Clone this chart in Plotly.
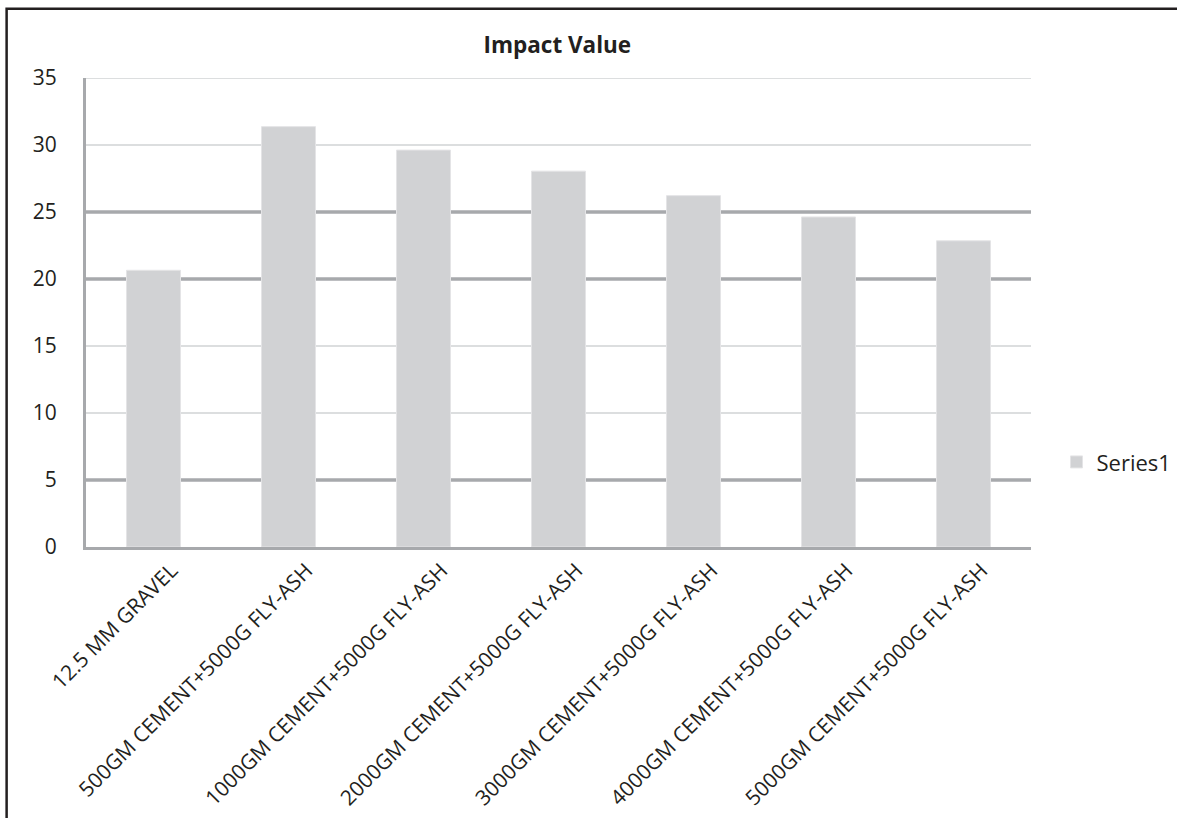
import plotly.graph_objects as go

# Impact value per mix
categories = [
    "12.5 MM GRAVEL",
    "500GM CEMENT+5000G FLY-ASH",
    "1000GM CEMENT+5000G FLY-ASH",
    "2000GM CEMENT+5000G FLY-ASH",
    "3000GM CEMENT+5000G FLY-ASH",
    "4000GM CEMENT+5000G FLY-ASH",
    "5000GM CEMENT+5000G FLY-ASH",
]
impact_values = [20.65, 31.37, 29.62, 28.05, 26.22, 24.63, 22.85]
y_ticks = [0, 5, 10, 15, 20, 25, 30, 35]
heavy_grid = [5, 20, 25]

FONT = "Open Sans"
TEXT = "#231f20"

fig = go.Figure()
fig.add_trace(go.Bar(
    x=categories,
    y=impact_values,
    name="Series1",
    marker=dict(color="#d1d2d4", line=dict(color="#e4e4e6", width=1)),
))

shapes = []
for v in y_ticks[1:]:
    heavy = v in heavy_grid
    shapes.append(dict(
        type="line", xref="paper", yref="y", x0=0, x1=1, y0=v, y1=v,
        line=dict(color="#a7a9ac" if heavy else "#d1d3d4", width=3.5 if heavy else 1.5),
        layer="below",
    ))
# outer frame of the chart (runs off the right and bottom edges)
shapes.append(dict(
    type="rect", xref="paper", yref="paper",
    x0=-0.084, x1=1.2, y0=-0.6, y1=1.1475,
    line=dict(color="#231f20", width=2.5), fillcolor="rgba(0,0,0,0)",
))

fig.update_layout(
    width=1177, height=818,
    margin=dict(l=86, r=146, t=78, b=271, autoexpand=False),
    paper_bgcolor="white", plot_bgcolor="white",
    bargap=0.6,
    title=dict(text="<b>Impact Value</b>", x=0.4735, xanchor="center", y=0.945, yanchor="middle",
               font=dict(family=FONT, size=22.5, color=TEXT)),
    font=dict(family=FONT, color=TEXT),
    showlegend=True,
    legend=dict(x=1.027, xanchor="left", y=0.181, yanchor="middle",
                font=dict(family=FONT, size=22, color=TEXT), itemwidth=30),
    xaxis=dict(
        showgrid=False, showline=True, linecolor="#a7a9ac", linewidth=3,
        tickangle=-45, tickfont=dict(family=FONT, size=21, color=TEXT),
        ticks="", ticklabelshift=18, automargin=False,
    ),
    yaxis=dict(
        range=[0, 35], tickvals=y_ticks, showgrid=False, zeroline=False,
        showline=True, linecolor="#a7a9ac", linewidth=3,
        tickfont=dict(family=FONT, size=21, color=TEXT),
        ticks="", ticklabelstandoff=22, automargin=False,
    ),
    shapes=shapes,
)

fig.write_html("out.html")
